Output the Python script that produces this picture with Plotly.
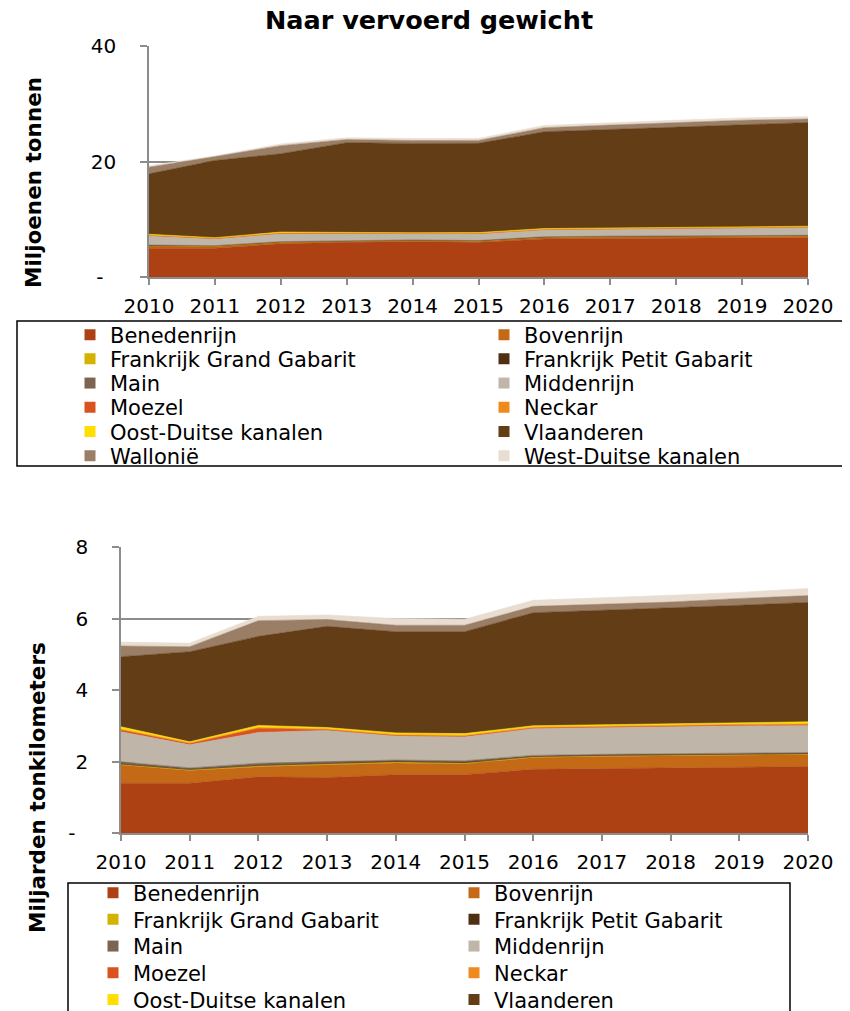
import plotly.graph_objects as go

# jaren
jaren = [2010, 2011, 2012, 2013, 2014, 2015, 2016, 2017, 2018, 2019, 2020]

vaarwegen = ["Benedenrijn", "Bovenrijn", "Frankrijk Grand Gabarit", "Frankrijk Petit Gabarit",
             "Main", "Middenrijn", "Moezel", "Neckar", "Oost-Duitse kanalen", "Vlaanderen",
             "Wallonië", "West-Duitse kanalen"]

kleuren = ["#AE4114", "#C46A17", "#D4B200", "#4F2F12", "#7B6552", "#BFB5A8",
           "#D9531E", "#EE8A1E", "#FFDE00", "#623D16", "#9A7F66", "#E8DDD0"]

# vervoerd gewicht, miljoenen tonnen
ton_benedenrijn = [5.0, 5.0, 5.75, 6.0, 6.1, 6.0, 6.6, 6.7, 6.75, 6.8, 6.8]
ton_bovenrijn = [0.4, 0.3, 0.25, 0.2, 0.2, 0.2, 0.25, 0.25, 0.25, 0.25, 0.3]
ton_fr_grand = [0.05, 0.05, 0.05, 0.05, 0.05, 0.05, 0.05, 0.05, 0.05, 0.05, 0.05]
ton_fr_petit = [0.02, 0.02, 0.02, 0.02, 0.02, 0.02, 0.02, 0.02, 0.02, 0.02, 0.02]
ton_main = [0.05, 0.05, 0.05, 0.05, 0.05, 0.05, 0.05, 0.05, 0.05, 0.05, 0.05]
ton_middenrijn = [1.58, 1.18, 1.38, 1.18, 1.08, 1.18, 1.23, 1.23, 1.28, 1.33, 1.38]
ton_moezel = [0.12, 0.08, 0.1, 0.05, 0.04, 0.04, 0.04, 0.04, 0.04, 0.04, 0.04]
ton_neckar = [0.03, 0.03, 0.03, 0.03, 0.03, 0.03, 0.03, 0.03, 0.03, 0.03, 0.03]
ton_oost_duits = [0.15, 0.1, 0.15, 0.12, 0.1, 0.12, 0.12, 0.12, 0.12, 0.12, 0.12]
ton_vlaanderen = [10.46, 13.36, 13.56, 15.56, 15.46, 15.46, 16.76, 17.06, 17.46, 17.76, 17.96]
ton_wallonie = [1.15, 0.65, 1.4, 0.55, 0.5, 0.5, 0.7, 0.75, 0.7, 0.7, 0.6]
ton_west_duits = [0.25, 0.15, 0.3, 0.3, 0.35, 0.35, 0.4, 0.45, 0.4, 0.4, 0.4]

# vervoersprestatie, miljarden tonkilometers
tkm_benedenrijn = [1.39, 1.39, 1.57, 1.55, 1.63, 1.63, 1.78, 1.80, 1.83, 1.85, 1.86]
tkm_bovenrijn = [0.51, 0.36, 0.28, 0.36, 0.33, 0.30, 0.33, 0.34, 0.32, 0.32, 0.33]
tkm_fr_grand = [0.02, 0.02, 0.03, 0.03, 0.03, 0.03, 0.02, 0.02, 0.02, 0.02, 0.02]
tkm_fr_petit = [0.01, 0.01, 0.01, 0.01, 0.01, 0.01, 0.01, 0.01, 0.01, 0.01, 0.01]
tkm_main = [0.06, 0.04, 0.06, 0.04, 0.04, 0.05, 0.03, 0.03, 0.03, 0.03, 0.03]
tkm_middenrijn = [0.84, 0.65, 0.86, 0.88, 0.67, 0.67, 0.75, 0.75, 0.77, 0.77, 0.76]
tkm_moezel = [0.05, 0.03, 0.12, 0.02, 0.02, 0.02, 0.02, 0.02, 0.02, 0.02, 0.02]
tkm_neckar = [0.02, 0.02, 0.02, 0.02, 0.02, 0.02, 0.02, 0.02, 0.02, 0.02, 0.02]
tkm_oost_duits = [0.07, 0.03, 0.06, 0.04, 0.05, 0.05, 0.04, 0.04, 0.04, 0.05, 0.06]
tkm_vlaanderen = [1.96, 2.52, 2.49, 2.83, 2.83, 2.85, 3.16, 3.19, 3.24, 3.28, 3.34]
tkm_wallonie = [0.30, 0.14, 0.44, 0.19, 0.18, 0.18, 0.18, 0.17, 0.16, 0.19, 0.19]
tkm_west_duits = [0.11, 0.10, 0.12, 0.13, 0.19, 0.17, 0.17, 0.18, 0.19, 0.17, 0.20]

ton_reeksen = [ton_benedenrijn, ton_bovenrijn, ton_fr_grand, ton_fr_petit, ton_main, ton_middenrijn,
               ton_moezel, ton_neckar, ton_oost_duits, ton_vlaanderen, ton_wallonie, ton_west_duits]
tkm_reeksen = [tkm_benedenrijn, tkm_bovenrijn, tkm_fr_grand, tkm_fr_petit, tkm_main, tkm_middenrijn,
               tkm_moezel, tkm_neckar, tkm_oost_duits, tkm_vlaanderen, tkm_wallonie, tkm_west_duits]

# de pagina heeft 8px body-marge; posities hieronder zijn schermpixels
OFF = 8
W, H = 850 - OFF, 1011 - OFF
FONT = "DejaVu Sans"
GRIJS = "#8C8C8C"


def px_x(p):
    return (p - OFF) / W


def px_y(p):
    return 1 - (p - OFF) / H


fig = go.Figure()

# gestapelde vlakken
for naam, kleur, ton, tkm in zip(vaarwegen, kleuren, ton_reeksen, tkm_reeksen):
    fig.add_trace(go.Scatter(x=jaren, y=ton, stackgroup="ton", mode="lines",
                             line=dict(width=0.6, color=kleur), fillcolor=kleur,
                             showlegend=False, hoverinfo="skip", xaxis="x", yaxis="y"))
    fig.add_trace(go.Scatter(x=jaren, y=tkm, stackgroup="tkm", mode="lines",
                             line=dict(width=0.6, color=kleur), fillcolor=kleur,
                             showlegend=False, hoverinfo="skip", xaxis="x2", yaxis="y2"))

# legenda's: één legenda per rij, twee kolommen
legendas = {}
n = 0
for grafiek, (tekst_x, rij0, rijstap, kolom) in enumerate([(110, 335, 24.2, 414), (133, 893, 26.7, 361)]):
    for rij in range(6):
        n += 1
        lid = "legend" if n == 1 else f"legend{n}"
        for k in range(2):
            i = rij * 2 + k
            fig.add_trace(go.Scatter(
                x=[None], y=[None], mode="markers", name=vaarwegen[i], legend=lid,
                marker=dict(symbol="square", size=11, color=kleuren[i]),
                xaxis="x" if grafiek == 0 else "x2", yaxis="y" if grafiek == 0 else "y2"))
        legendas[lid] = dict(
            orientation="h", traceorder="normal", entrywidth=kolom - 45, entrywidthmode="pixels",
            x=px_x(tekst_x - 40), xanchor="left", y=px_y(rij0 + rij * rijstap), yanchor="middle",
            font=dict(family=FONT, size=21, color="black"), bgcolor="rgba(0,0,0,0)",
            borderwidth=0, itemclick=False)

as_stijl = dict(showline=True, linecolor=GRIJS, linewidth=1.5, ticks="outside",
                tickcolor=GRIJS, tickwidth=1.5, tickfont=dict(family=FONT, size=20, color="black"),
                zeroline=False, fixedrange=True)

fig.update_layout(
    width=W, height=H,
    margin=dict(l=0, r=0, t=0, b=0, autoexpand=False),
    paper_bgcolor="white", plot_bgcolor="white",
    title=dict(text="<b>Naar vervoerd gewicht</b>", xref="paper", x=px_x(429), xanchor="center",
               yref="paper", y=px_y(20), yanchor="middle", font=dict(family=FONT, size=25.5, color="black")),
    xaxis=dict(domain=[px_x(149), px_x(808)], anchor="y", range=[2010, 2020],
               tickvals=jaren, ticklen=6, showgrid=False, ticklabelstandoff=4, **as_stijl),
    yaxis=dict(domain=[px_y(277), px_y(46)], anchor="x", range=[0, 40],
               tickvals=[0, 20, 40], ticktext=["-\u2007", "20", "40"], ticklen=7,
               showgrid=True, gridcolor=GRIJS, gridwidth=1.5, ticklabelstandoff=20, **as_stijl),
    xaxis2=dict(domain=[px_x(121), px_x(808)], anchor="y2", range=[2010, 2020],
                tickvals=jaren, ticklen=6, showgrid=False, ticklabelstandoff=4, **as_stijl),
    yaxis2=dict(domain=[px_y(833), px_y(547)], anchor="x2", range=[0, 8],
                tickvals=[0, 2, 4, 6, 8], ticktext=["-\u2007", "2", "4", "6", "8"], ticklen=7,
                showgrid=True, gridcolor=GRIJS, gridwidth=1.5, ticklabelstandoff=20, **as_stijl),
    annotations=[
        dict(text="<b>Miljoenen tonnen</b>", textangle=-90, xref="paper", yref="paper",
             x=px_x(33), y=px_y(183), xanchor="center", yanchor="middle", showarrow=False,
             font=dict(family=FONT, size=21.5, color="black")),
        dict(text="<b>Miljarden tonkilometers</b>", textangle=-90, xref="paper", yref="paper",
             x=px_x(37), y=px_y(788), xanchor="center", yanchor="middle", showarrow=False,
             font=dict(family=FONT, size=21.5, color="black")),
    ],
    shapes=[
        dict(type="rect", xref="paper", yref="paper", x0=px_x(17), x1=px_x(848),
             y0=px_y(466), y1=px_y(321), line=dict(color="black", width=1.5)),
        dict(type="rect", xref="paper", yref="paper", x0=px_x(68), x1=px_x(790),
             y0=px_y(1030), y1=px_y(883), line=dict(color="black", width=1.5)),
    ],
    showlegend=True,
    **legendas,
)

fig.write_html("out.html")
